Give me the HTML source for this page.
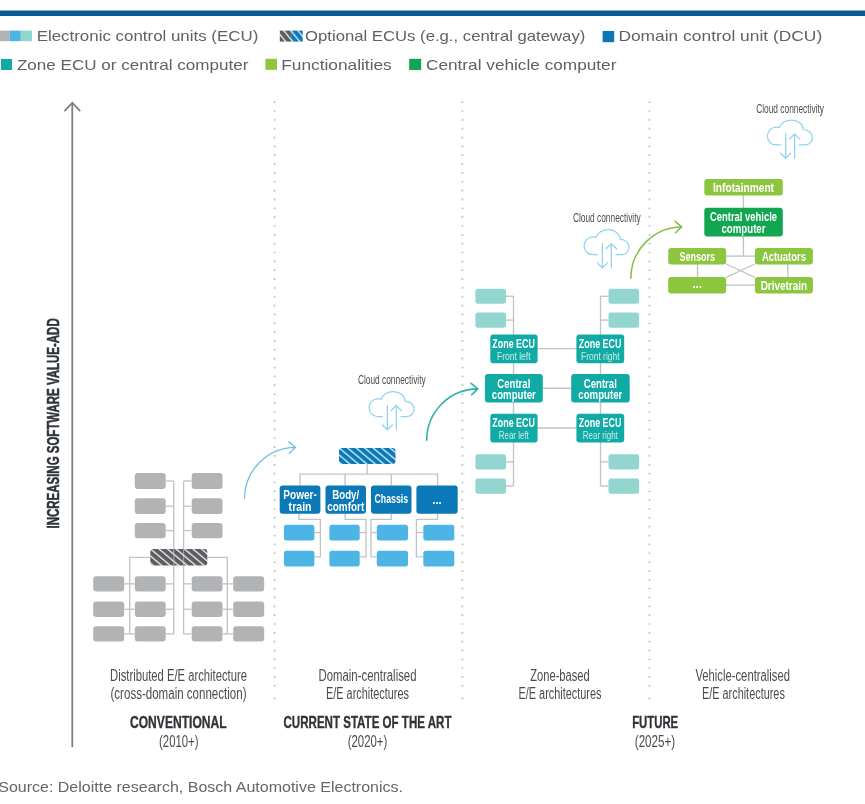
<!DOCTYPE html>
<html lang="en"><head><meta charset="utf-8"><title>E/E architecture evolution</title>
<style>
html,body{margin:0;padding:0;background:#fff;}
body{width:865px;height:804px;overflow:hidden;}
svg{display:block;}
svg text{font-family:"Liberation Sans",sans-serif;}
</style></head><body>
<svg width="865" height="804" viewBox="0 0 865 804">
<defs>
<pattern id="hg" width="5.45" height="5.45" patternUnits="userSpaceOnUse" patternTransform="translate(149.3,548.8) rotate(-50)"><rect width="5.45" height="5.45" fill="#5b5d61"/><rect width="1.25" height="5.45" fill="#f4f6f8"/></pattern>
<pattern id="hb" width="5.45" height="5.45" patternUnits="userSpaceOnUse" patternTransform="translate(338.0,447.9) rotate(-50)"><rect width="5.45" height="5.45" fill="#0f78b2"/><rect width="1.35" height="5.45" fill="#c4f0ff"/></pattern>
<pattern id="hgl" width="5.45" height="5.45" patternUnits="userSpaceOnUse" patternTransform="translate(282.9,30.6) rotate(-39)"><rect width="5.45" height="5.45" fill="#5b5d61"/><rect width="1.25" height="5.45" fill="#f4f6f8"/></pattern>
<pattern id="hbl" width="5.45" height="5.45" patternUnits="userSpaceOnUse" patternTransform="translate(282.9,30.6) rotate(-39)"><rect width="5.45" height="5.45" fill="#0f78b2"/><rect width="1.35" height="5.45" fill="#c4f0ff"/></pattern>
</defs>
<rect x="0" y="10.5" width="865" height="5.5" fill="#0b5b97"/>
<rect x="0" y="30.6" width="9.6" height="10.6" fill="#b1b3b5"/>
<rect x="9.6" y="30.6" width="11.2" height="10.6" fill="#4db5e5"/>
<rect x="20.8" y="30.6" width="11.2" height="10.6" fill="#93d5cf"/>
<text x="36.7" y="41.2" font-size="15.0" font-weight="normal" fill="#5d6266" text-anchor="start" textLength="221.6" lengthAdjust="spacingAndGlyphs" >Electronic control units (ECU)</text>
<rect x="279.8" y="30.6" width="11.4" height="11.0" fill="url(#hgl)"/>
<rect x="291.2" y="30.6" width="11.5" height="11.0" fill="url(#hbl)"/>
<text x="305.0" y="41.2" font-size="15.0" font-weight="normal" fill="#5d6266" text-anchor="start" textLength="280.3" lengthAdjust="spacingAndGlyphs" >Optional ECUs (e.g., central gateway)</text>
<rect x="602.6" y="31" width="11.6" height="11.2" fill="#0c77b4"/>
<text x="618.4" y="41.2" font-size="15.0" font-weight="normal" fill="#5d6266" text-anchor="start" textLength="203.8" lengthAdjust="spacingAndGlyphs" >Domain control unit (DCU)</text>
<rect x="1" y="59" width="11" height="11" fill="#12aaa5"/>
<text x="16.9" y="69.5" font-size="15.0" font-weight="normal" fill="#5d6266" text-anchor="start" textLength="231.5" lengthAdjust="spacingAndGlyphs" >Zone ECU or central computer</text>
<rect x="265.4" y="58.8" width="11.6" height="11" fill="#8cc63f"/>
<text x="281.2" y="69.5" font-size="15.0" font-weight="normal" fill="#5d6266" text-anchor="start" textLength="110.6" lengthAdjust="spacingAndGlyphs" >Functionalities</text>
<rect x="409.2" y="58.8" width="12" height="11.2" fill="#12a650"/>
<text x="426.0" y="69.5" font-size="15.0" font-weight="normal" fill="#5d6266" text-anchor="start" textLength="190.4" lengthAdjust="spacingAndGlyphs" >Central vehicle computer</text>
<path d="M72.30 747.20 L72.30 103.00" fill="none" stroke="#7d7f82" stroke-width="1.8"/>
<path d="M64.40 111.20 L72.30 102.80 L80.20 111.20" fill="none" stroke="#7d7f82" stroke-width="1.7"/>
<text transform="translate(59.2,528.5) rotate(-90)" font-size="16.9" font-weight="bold" fill="#2e3338" stroke="#2e3338" stroke-width="0.5" textLength="210.2" lengthAdjust="spacingAndGlyphs">INCREASING SOFTWARE VALUE-ADD</text>
<line x1="274.6" y1="101.3" x2="274.6" y2="688" stroke="#bdbfc1" stroke-width="1.7" stroke-dasharray="1.7 7.145" />
<rect x="273.75" y="697.6" width="1.7" height="1.7" fill="#bdbfc1"/>
<line x1="462.4" y1="101.3" x2="462.4" y2="688" stroke="#bdbfc1" stroke-width="1.7" stroke-dasharray="1.7 7.145" />
<rect x="461.54999999999995" y="697.6" width="1.7" height="1.7" fill="#bdbfc1"/>
<line x1="649.5" y1="101.3" x2="649.5" y2="688" stroke="#bdbfc1" stroke-width="1.7" stroke-dasharray="1.7 7.145" />
<rect x="648.65" y="697.6" width="1.7" height="1.7" fill="#bdbfc1"/>
<path d="M173.80 481.00 L173.80 634.00" fill="none" stroke="#c1c3c5" stroke-width="1.35"/>
<path d="M183.60 481.00 L183.60 634.00" fill="none" stroke="#c1c3c5" stroke-width="1.35"/>
<path d="M166.00 481.00 L173.80 481.00" fill="none" stroke="#c1c3c5" stroke-width="1.35"/>
<path d="M183.60 481.00 L191.30 481.00" fill="none" stroke="#c1c3c5" stroke-width="1.35"/>
<path d="M166.00 506.20 L173.80 506.20" fill="none" stroke="#c1c3c5" stroke-width="1.35"/>
<path d="M183.60 506.20 L191.30 506.20" fill="none" stroke="#c1c3c5" stroke-width="1.35"/>
<path d="M166.00 530.60 L173.80 530.60" fill="none" stroke="#c1c3c5" stroke-width="1.35"/>
<path d="M183.60 530.60 L191.30 530.60" fill="none" stroke="#c1c3c5" stroke-width="1.35"/>
<path d="M166.00 583.85 L173.80 583.85" fill="none" stroke="#c1c3c5" stroke-width="1.35"/>
<path d="M183.60 583.85 L191.30 583.85" fill="none" stroke="#c1c3c5" stroke-width="1.35"/>
<path d="M124.50 583.85 L129.70 583.85" fill="none" stroke="#c1c3c5" stroke-width="1.35"/>
<path d="M129.70 583.85 L134.40 583.85" fill="none" stroke="#c1c3c5" stroke-width="1.35"/>
<path d="M222.80 583.85 L227.30 583.85" fill="none" stroke="#c1c3c5" stroke-width="1.35"/>
<path d="M227.30 583.85 L232.80 583.85" fill="none" stroke="#c1c3c5" stroke-width="1.35"/>
<path d="M166.00 609.25 L173.80 609.25" fill="none" stroke="#c1c3c5" stroke-width="1.35"/>
<path d="M183.60 609.25 L191.30 609.25" fill="none" stroke="#c1c3c5" stroke-width="1.35"/>
<path d="M124.50 609.25 L129.70 609.25" fill="none" stroke="#c1c3c5" stroke-width="1.35"/>
<path d="M129.70 609.25 L134.40 609.25" fill="none" stroke="#c1c3c5" stroke-width="1.35"/>
<path d="M222.80 609.25 L227.30 609.25" fill="none" stroke="#c1c3c5" stroke-width="1.35"/>
<path d="M227.30 609.25 L232.80 609.25" fill="none" stroke="#c1c3c5" stroke-width="1.35"/>
<path d="M166.00 633.90 L173.80 633.90" fill="none" stroke="#c1c3c5" stroke-width="1.35"/>
<path d="M183.60 633.90 L191.30 633.90" fill="none" stroke="#c1c3c5" stroke-width="1.35"/>
<path d="M124.50 633.90 L129.70 633.90" fill="none" stroke="#c1c3c5" stroke-width="1.35"/>
<path d="M129.70 633.90 L134.40 633.90" fill="none" stroke="#c1c3c5" stroke-width="1.35"/>
<path d="M222.80 633.90 L227.30 633.90" fill="none" stroke="#c1c3c5" stroke-width="1.35"/>
<path d="M227.30 633.90 L232.80 633.90" fill="none" stroke="#c1c3c5" stroke-width="1.35"/>
<path d="M150.20 557.30 L129.70 557.30 L129.70 634.00" fill="none" stroke="#c1c3c5" stroke-width="1.35"/>
<path d="M207.70 557.30 L227.30 557.30 L227.30 634.00" fill="none" stroke="#c1c3c5" stroke-width="1.35"/>
<rect x="134.80" y="473.10" width="30.90" height="15.80" rx="3" fill="#b1b3b5" />
<rect x="191.70" y="473.10" width="30.80" height="15.80" rx="3" fill="#b1b3b5" />
<rect x="134.80" y="498.30" width="30.90" height="15.80" rx="3" fill="#b1b3b5" />
<rect x="191.70" y="498.30" width="30.80" height="15.80" rx="3" fill="#b1b3b5" />
<rect x="134.80" y="522.90" width="30.90" height="15.40" rx="3" fill="#b1b3b5" />
<rect x="191.70" y="522.90" width="30.80" height="15.40" rx="3" fill="#b1b3b5" />
<rect x="93.20" y="576.20" width="31.00" height="15.30" rx="3" fill="#b1b3b5" />
<rect x="134.80" y="576.20" width="30.90" height="15.30" rx="3" fill="#b1b3b5" />
<rect x="191.70" y="576.20" width="30.80" height="15.30" rx="3" fill="#b1b3b5" />
<rect x="233.20" y="576.20" width="31.00" height="15.30" rx="3" fill="#b1b3b5" />
<rect x="93.20" y="601.60" width="31.00" height="15.30" rx="3" fill="#b1b3b5" />
<rect x="134.80" y="601.60" width="30.90" height="15.30" rx="3" fill="#b1b3b5" />
<rect x="191.70" y="601.60" width="30.80" height="15.30" rx="3" fill="#b1b3b5" />
<rect x="233.20" y="601.60" width="31.00" height="15.30" rx="3" fill="#b1b3b5" />
<rect x="93.20" y="626.30" width="31.00" height="15.20" rx="3" fill="#b1b3b5" />
<rect x="134.80" y="626.30" width="30.90" height="15.20" rx="3" fill="#b1b3b5" />
<rect x="191.70" y="626.30" width="30.80" height="15.20" rx="3" fill="#b1b3b5" />
<rect x="233.20" y="626.30" width="31.00" height="15.20" rx="3" fill="#b1b3b5" />
<rect x="150.30" y="548.90" width="57.00" height="16.50" rx="3" fill="url(#hg)" />
<path d="M173.8 549V565.4M183.6 549V565.4" stroke="#d0d2d4" stroke-width="1.2" opacity="0.55"/>
<path d="M367.10 464.00 L367.10 474.10" fill="none" stroke="#c1c3c5" stroke-width="1.35"/>
<path d="M300.00 485.50 L300.00 474.10 L437.60 474.10 L437.60 485.50" fill="none" stroke="#c1c3c5" stroke-width="1.35"/>
<path d="M345.10 474.10 L345.10 485.50" fill="none" stroke="#c1c3c5" stroke-width="1.35"/>
<path d="M391.40 474.10 L391.40 485.50" fill="none" stroke="#c1c3c5" stroke-width="1.35"/>
<rect x="339.00" y="447.90" width="56.50" height="16.10" rx="3" fill="url(#hb)" />
<path d="M298.90 513.70 L298.90 519.30 L320.40 519.30 L320.40 556.90 L314.40 556.90" fill="none" stroke="#c1c3c5" stroke-width="1.35"/>
<path d="M314.40 532.50 L320.40 532.50" fill="none" stroke="#c1c3c5" stroke-width="1.35"/>
<path d="M345.10 513.70 L345.10 519.30 L366.00 519.30 L366.00 556.90 L359.70 556.90" fill="none" stroke="#c1c3c5" stroke-width="1.35"/>
<path d="M359.70 532.50 L366.00 532.50" fill="none" stroke="#c1c3c5" stroke-width="1.35"/>
<path d="M391.40 513.70 L391.40 519.30 L371.00 519.30 L371.00 556.90 L376.80 556.90" fill="none" stroke="#c1c3c5" stroke-width="1.35"/>
<path d="M376.80 532.50 L371.00 532.50" fill="none" stroke="#c1c3c5" stroke-width="1.35"/>
<path d="M437.60 513.70 L437.60 519.30 L416.40 519.30 L416.40 556.90 L423.30 556.90" fill="none" stroke="#c1c3c5" stroke-width="1.35"/>
<path d="M423.30 532.50 L416.40 532.50" fill="none" stroke="#c1c3c5" stroke-width="1.35"/>
<rect x="279.70" y="485.50" width="40.70" height="28.30" rx="3" fill="#0b79b7" />
<rect x="325.50" y="485.50" width="40.50" height="28.30" rx="3" fill="#0b79b7" />
<rect x="371.00" y="485.50" width="40.50" height="28.30" rx="3" fill="#0b79b7" />
<rect x="416.40" y="485.50" width="41.30" height="28.30" rx="3" fill="#0b79b7" />
<rect x="283.90" y="524.80" width="30.50" height="15.80" rx="2.5" fill="#4db5e5" />
<rect x="283.90" y="550.70" width="30.50" height="15.80" rx="2.5" fill="#4db5e5" />
<rect x="329.40" y="524.80" width="30.30" height="15.80" rx="2.5" fill="#4db5e5" />
<rect x="329.40" y="550.70" width="30.30" height="15.80" rx="2.5" fill="#4db5e5" />
<rect x="376.80" y="524.80" width="31.20" height="15.80" rx="2.5" fill="#4db5e5" />
<rect x="376.80" y="550.70" width="31.20" height="15.80" rx="2.5" fill="#4db5e5" />
<rect x="423.30" y="524.80" width="31.00" height="15.80" rx="2.5" fill="#4db5e5" />
<rect x="423.30" y="550.70" width="31.00" height="15.80" rx="2.5" fill="#4db5e5" />
<text x="300.1" y="498.6" font-size="12.5" font-weight="bold" fill="#fff" text-anchor="middle" textLength="33.5" lengthAdjust="spacingAndGlyphs" >Power-</text>
<text x="300.1" y="511.0" font-size="12.5" font-weight="bold" fill="#fff" text-anchor="middle" textLength="23" lengthAdjust="spacingAndGlyphs" >train</text>
<text x="345.7" y="498.6" font-size="12.5" font-weight="bold" fill="#fff" text-anchor="middle" textLength="27" lengthAdjust="spacingAndGlyphs" >Body/</text>
<text x="345.7" y="511.0" font-size="12.5" font-weight="bold" fill="#fff" text-anchor="middle" textLength="37" lengthAdjust="spacingAndGlyphs" >comfort</text>
<text x="391.3" y="503.3" font-size="12.9" font-weight="bold" fill="#fff" text-anchor="middle" textLength="33.5" lengthAdjust="spacingAndGlyphs" >Chassis</text>
<text x="437" y="504.3" font-size="12.5" font-weight="bold" fill="#fff" text-anchor="middle" textLength="9.6" lengthAdjust="spacingAndGlyphs" >...</text>
<path d="M513.50 296.00 L513.50 486.00" fill="none" stroke="#c1c3c5" stroke-width="1.35"/>
<path d="M600.50 296.00 L600.50 486.00" fill="none" stroke="#c1c3c5" stroke-width="1.35"/>
<path d="M537.00 348.60 L577.00 348.60" fill="none" stroke="#c1c3c5" stroke-width="1.35"/>
<path d="M537.00 388.20 L577.00 388.20" fill="none" stroke="#c1c3c5" stroke-width="1.35"/>
<path d="M537.00 428.00 L577.00 428.00" fill="none" stroke="#c1c3c5" stroke-width="1.35"/>
<path d="M506.00 296.25 L513.50 296.25" fill="none" stroke="#c1c3c5" stroke-width="1.35"/>
<path d="M600.50 296.25 L608.50 296.25" fill="none" stroke="#c1c3c5" stroke-width="1.35"/>
<rect x="475.40" y="288.70" width="30.60" height="15.10" rx="2.5" fill="#93d5cf" />
<rect x="608.50" y="288.70" width="30.60" height="15.10" rx="2.5" fill="#93d5cf" />
<path d="M506.00 320.10 L513.50 320.10" fill="none" stroke="#c1c3c5" stroke-width="1.35"/>
<path d="M600.50 320.10 L608.50 320.10" fill="none" stroke="#c1c3c5" stroke-width="1.35"/>
<rect x="475.40" y="312.40" width="30.60" height="15.40" rx="2.5" fill="#93d5cf" />
<rect x="608.50" y="312.40" width="30.60" height="15.40" rx="2.5" fill="#93d5cf" />
<path d="M506.00 461.85 L513.50 461.85" fill="none" stroke="#c1c3c5" stroke-width="1.35"/>
<path d="M600.50 461.85 L608.50 461.85" fill="none" stroke="#c1c3c5" stroke-width="1.35"/>
<rect x="475.40" y="454.20" width="30.60" height="15.30" rx="2.5" fill="#93d5cf" />
<rect x="608.50" y="454.20" width="30.60" height="15.30" rx="2.5" fill="#93d5cf" />
<path d="M506.00 486.05 L513.50 486.05" fill="none" stroke="#c1c3c5" stroke-width="1.35"/>
<path d="M600.50 486.05 L608.50 486.05" fill="none" stroke="#c1c3c5" stroke-width="1.35"/>
<rect x="475.40" y="478.40" width="30.60" height="15.30" rx="2.5" fill="#93d5cf" />
<rect x="608.50" y="478.40" width="30.60" height="15.30" rx="2.5" fill="#93d5cf" />
<rect x="490.30" y="334.50" width="47.30" height="28.70" rx="3" fill="#12aaa5" />
<rect x="490.30" y="413.80" width="47.30" height="28.80" rx="3" fill="#12aaa5" />
<rect x="576.40" y="334.50" width="47.80" height="28.70" rx="3" fill="#12aaa5" />
<rect x="576.40" y="413.80" width="47.80" height="28.80" rx="3" fill="#12aaa5" />
<rect x="484.90" y="374.00" width="57.90" height="28.60" rx="3" fill="#12aaa5" />
<rect x="571.20" y="374.00" width="58.50" height="28.60" rx="3" fill="#12aaa5" />
<text x="513.5999999999999" y="347.7" font-size="12.5" font-weight="bold" fill="#fff" text-anchor="middle" textLength="42.6" lengthAdjust="spacingAndGlyphs" >Zone ECU</text>
<text x="513.5999999999999" y="426.9" font-size="12.5" font-weight="bold" fill="#fff" text-anchor="middle" textLength="42.6" lengthAdjust="spacingAndGlyphs" >Zone ECU</text>
<text x="513.8" y="387.5" font-size="12.5" font-weight="bold" fill="#fff" text-anchor="middle" textLength="33" lengthAdjust="spacingAndGlyphs" >Central</text>
<text x="513.8" y="399.4" font-size="12.5" font-weight="bold" fill="#fff" text-anchor="middle" textLength="44" lengthAdjust="spacingAndGlyphs" >computer</text>
<text x="513.8" y="359.7" font-size="11.5" font-weight="normal" fill="#c9ecea" text-anchor="middle" textLength="33.5" lengthAdjust="spacingAndGlyphs" >Front left</text>
<text x="513.8" y="438.9" font-size="11.5" font-weight="normal" fill="#c9ecea" text-anchor="middle" textLength="30" lengthAdjust="spacingAndGlyphs" >Rear left</text>
<text x="600.0999999999999" y="347.7" font-size="12.5" font-weight="bold" fill="#fff" text-anchor="middle" textLength="42.6" lengthAdjust="spacingAndGlyphs" >Zone ECU</text>
<text x="600.0999999999999" y="426.9" font-size="12.5" font-weight="bold" fill="#fff" text-anchor="middle" textLength="42.6" lengthAdjust="spacingAndGlyphs" >Zone ECU</text>
<text x="600.3" y="387.5" font-size="12.5" font-weight="bold" fill="#fff" text-anchor="middle" textLength="33" lengthAdjust="spacingAndGlyphs" >Central</text>
<text x="600.3" y="399.4" font-size="12.5" font-weight="bold" fill="#fff" text-anchor="middle" textLength="44" lengthAdjust="spacingAndGlyphs" >computer</text>
<text x="600.3" y="359.7" font-size="11.5" font-weight="normal" fill="#c9ecea" text-anchor="middle" textLength="38.5" lengthAdjust="spacingAndGlyphs" >Front right</text>
<text x="600.3" y="438.9" font-size="11.5" font-weight="normal" fill="#c9ecea" text-anchor="middle" textLength="35" lengthAdjust="spacingAndGlyphs" >Rear right</text>
<path d="M743.40 195.00 L743.40 256.10" fill="none" stroke="#c1c3c5" stroke-width="1.35"/>
<path d="M726.00 256.10 L755.00 256.10" fill="none" stroke="#c1c3c5" stroke-width="1.35"/>
<path d="M726.00 285.10 L755.00 285.10" fill="none" stroke="#c1c3c5" stroke-width="1.35"/>
<path d="M697.50 264.00 L697.50 277.00" fill="none" stroke="#c1c3c5" stroke-width="1.35"/>
<path d="M787.80 264.00 L787.80 277.00" fill="none" stroke="#c1c3c5" stroke-width="1.35"/>
<path d="M726.20 264.00 L754.90 277.40" fill="none" stroke="#c1c3c5" stroke-width="1.2"/>
<path d="M754.90 264.00 L726.20 277.40" fill="none" stroke="#c1c3c5" stroke-width="1.2"/>
<rect x="704.30" y="178.90" width="78.50" height="16.50" rx="3" fill="#8cc63f" />
<rect x="704.30" y="207.70" width="78.50" height="28.80" rx="3" fill="#12a650" />
<rect x="668.20" y="247.90" width="58.00" height="16.50" rx="3" fill="#8cc63f" />
<rect x="754.90" y="247.90" width="58.00" height="16.50" rx="3" fill="#8cc63f" />
<rect x="668.20" y="276.90" width="58.00" height="16.50" rx="3" fill="#8cc63f" />
<rect x="754.90" y="276.90" width="58.00" height="16.50" rx="3" fill="#8cc63f" />
<text x="743.5" y="191.7" font-size="12.5" font-weight="bold" fill="#fff" text-anchor="middle" textLength="61" lengthAdjust="spacingAndGlyphs" >Infotainment</text>
<text x="743.5" y="220.9" font-size="12.5" font-weight="bold" fill="#fff" text-anchor="middle" textLength="67" lengthAdjust="spacingAndGlyphs" >Central vehicle</text>
<text x="743.5" y="232.9" font-size="12.5" font-weight="bold" fill="#fff" text-anchor="middle" textLength="44" lengthAdjust="spacingAndGlyphs" >computer</text>
<text x="697.2" y="260.6" font-size="12.5" font-weight="bold" fill="#fff" text-anchor="middle" textLength="35.5" lengthAdjust="spacingAndGlyphs" >Sensors</text>
<text x="783.9" y="260.6" font-size="12.5" font-weight="bold" fill="#fff" text-anchor="middle" textLength="44" lengthAdjust="spacingAndGlyphs" >Actuators</text>
<text x="697.2" y="288.2" font-size="12.5" font-weight="bold" fill="#fff" text-anchor="middle" textLength="9.6" lengthAdjust="spacingAndGlyphs" >...</text>
<text x="783.9" y="289.6" font-size="12.5" font-weight="bold" fill="#fff" text-anchor="middle" textLength="46.5" lengthAdjust="spacingAndGlyphs" >Drivetrain</text>
<text x="357.9" y="384.1" font-size="13.3" font-weight="normal" fill="#4a4d50" text-anchor="start" textLength="67.8" lengthAdjust="spacingAndGlyphs" >Cloud connectivity</text>
<g transform="translate(369.1,391.6)" fill="none" stroke="#93d2ef" stroke-width="1.25" stroke-linecap="round" stroke-linejoin="round"><path d="M13.3 24.9H8.5C3.5 24.9 0 21 0 16C0 11 4 7.2 9 7.2C10 7.2 11 7.3 12 7.6C13.5 3 18.5 0 24.3 0C30.5 0 35.5 4 36 9.5C41 9.8 45 13 45 17.5C45 22 41.5 24.9 37.5 24.9H31.8"/><path d="M18.3 13.9V38M13.2 33.2L18.3 38.2L23.4 33.2"/><path d="M27.2 38.2V14.1M22.0 19.1L27.2 13.9L32.4 19.1"/></g>
<text x="572.9" y="222.2" font-size="13.3" font-weight="normal" fill="#4a4d50" text-anchor="start" textLength="67.8" lengthAdjust="spacingAndGlyphs" >Cloud connectivity</text>
<g transform="translate(584.1,229.7)" fill="none" stroke="#93d2ef" stroke-width="1.25" stroke-linecap="round" stroke-linejoin="round"><path d="M13.3 24.9H8.5C3.5 24.9 0 21 0 16C0 11 4 7.2 9 7.2C10 7.2 11 7.3 12 7.6C13.5 3 18.5 0 24.3 0C30.5 0 35.5 4 36 9.5C41 9.8 45 13 45 17.5C45 22 41.5 24.9 37.5 24.9H31.8"/><path d="M18.3 13.9V38M13.2 33.2L18.3 38.2L23.4 33.2"/><path d="M27.2 38.2V14.1M22.0 19.1L27.2 13.9L32.4 19.1"/></g>
<text x="756.2" y="112.5" font-size="13.3" font-weight="normal" fill="#4a4d50" text-anchor="start" textLength="67.8" lengthAdjust="spacingAndGlyphs" >Cloud connectivity</text>
<g transform="translate(767.4,120.0)" fill="none" stroke="#93d2ef" stroke-width="1.25" stroke-linecap="round" stroke-linejoin="round"><path d="M13.3 24.9H8.5C3.5 24.9 0 21 0 16C0 11 4 7.2 9 7.2C10 7.2 11 7.3 12 7.6C13.5 3 18.5 0 24.3 0C30.5 0 35.5 4 36 9.5C41 9.8 45 13 45 17.5C45 22 41.5 24.9 37.5 24.9H31.8"/><path d="M18.3 13.9V38M13.2 33.2L18.3 38.2L23.4 33.2"/><path d="M27.2 38.2V14.1M22.0 19.1L27.2 13.9L32.4 19.1"/></g>
<path d="M244.5 498.6A51.3 51.3 0 0 1 295.6 447.4M288.9 441.8L295.6 447.4L289.4 453.3" fill="none" stroke="#6bbfe3" stroke-width="1.3" stroke-linecap="round" stroke-linejoin="round"/>
<path d="M426.7 440.2A51.3 51.3 0 0 1 477.8 388.9M471.1 383.3L477.8 388.9L471.6 394.8" fill="none" stroke="#2fb1aa" stroke-width="1.6" stroke-linecap="round" stroke-linejoin="round"/>
<path d="M630.9 278.3A51.3 51.3 0 0 1 681.7 226.9M675.0 221.3L681.7 226.9L675.5 232.8" fill="none" stroke="#86bd4a" stroke-width="1.5" stroke-linecap="round" stroke-linejoin="round"/>
<text x="178.5" y="680.7" font-size="15.8" font-weight="normal" fill="#4a4d50" text-anchor="middle" textLength="137" lengthAdjust="spacingAndGlyphs" >Distributed E/E architecture</text>
<text x="178.5" y="699.1" font-size="15.8" font-weight="normal" fill="#4a4d50" text-anchor="middle" textLength="136" lengthAdjust="spacingAndGlyphs" >(cross-domain connection)</text>
<text x="178.3" y="728.2" font-size="16.1" font-weight="bold" fill="#2e3338" text-anchor="middle" textLength="96.6" lengthAdjust="spacingAndGlyphs" stroke="#2e3338" stroke-width="0.35">CONVENTIONAL</text>
<text x="178.8" y="746.5" font-size="15.8" font-weight="normal" fill="#4a4d50" text-anchor="middle" textLength="39.5" lengthAdjust="spacingAndGlyphs" >(2010+)</text>
<text x="367.5" y="680.7" font-size="15.8" font-weight="normal" fill="#4a4d50" text-anchor="middle" textLength="98" lengthAdjust="spacingAndGlyphs" >Domain-centralised</text>
<text x="367.5" y="699.1" font-size="15.8" font-weight="normal" fill="#4a4d50" text-anchor="middle" textLength="83" lengthAdjust="spacingAndGlyphs" >E/E architectures</text>
<text x="367.5" y="728.2" font-size="16.1" font-weight="bold" fill="#2e3338" text-anchor="middle" textLength="168" lengthAdjust="spacingAndGlyphs" stroke="#2e3338" stroke-width="0.35">CURRENT STATE OF THE ART</text>
<text x="367.5" y="746.5" font-size="15.8" font-weight="normal" fill="#4a4d50" text-anchor="middle" textLength="39.5" lengthAdjust="spacingAndGlyphs" >(2020+)</text>
<text x="560" y="680.7" font-size="15.8" font-weight="normal" fill="#4a4d50" text-anchor="middle" textLength="59.5" lengthAdjust="spacingAndGlyphs" >Zone-based</text>
<text x="560" y="699.1" font-size="15.8" font-weight="normal" fill="#4a4d50" text-anchor="middle" textLength="83" lengthAdjust="spacingAndGlyphs" >E/E architectures</text>
<text x="655.2" y="728.2" font-size="16.1" font-weight="bold" fill="#2e3338" text-anchor="middle" textLength="46" lengthAdjust="spacingAndGlyphs" stroke="#2e3338" stroke-width="0.35">FUTURE</text>
<text x="655" y="746.5" font-size="15.8" font-weight="normal" fill="#4a4d50" text-anchor="middle" textLength="40.5" lengthAdjust="spacingAndGlyphs" >(2025+)</text>
<text x="742.7" y="680.7" font-size="15.8" font-weight="normal" fill="#4a4d50" text-anchor="middle" textLength="94.5" lengthAdjust="spacingAndGlyphs" >Vehicle-centralised</text>
<text x="743.4" y="699.1" font-size="15.8" font-weight="normal" fill="#4a4d50" text-anchor="middle" textLength="83" lengthAdjust="spacingAndGlyphs" >E/E architectures</text>
<text x="-1.8" y="791.7" font-size="14.2" font-weight="normal" fill="#63666a" text-anchor="start" textLength="404.8" lengthAdjust="spacingAndGlyphs" >Source: Deloitte research, Bosch Automotive Electronics.</text>
</svg>
</body></html>
